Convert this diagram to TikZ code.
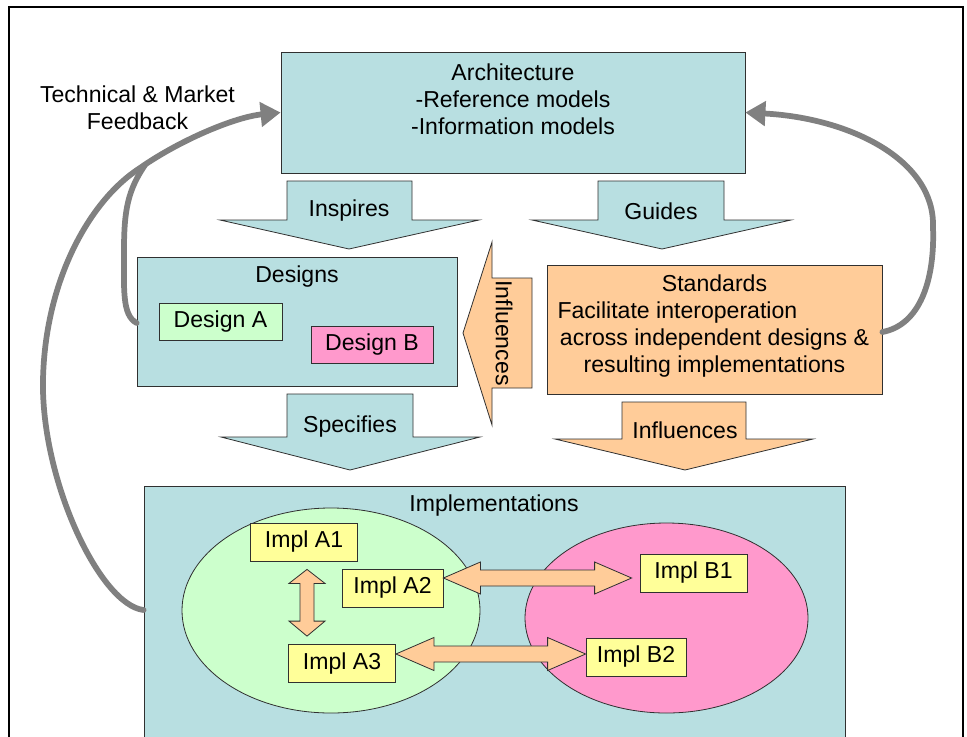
\documentclass[tikz,border=0pt]{standalone}
\usepackage{fontspec}
\setmainfont{Liberation Sans}
\usetikzlibrary{calc,arrows.meta,shapes.geometric}
\definecolor{teal}{HTML}{B8DFE1}
\definecolor{peach}{HTML}{FFCC99}
\definecolor{lgreen}{HTML}{CCFFCC}
\definecolor{pinkc}{HTML}{FF99CC}
\definecolor{yell}{HTML}{FFFF99}
\definecolor{fb}{HTML}{808080}
\definecolor{edge}{HTML}{303030}
\tikzset{
  box/.style={draw=edge,line width=0.6pt,inner sep=0pt},
  lbl/.style={inner sep=0pt,font=\fontsize{17.3}{20.25}\selectfont,align=center},
  impl/.style={box,fill=yell,minimum height=28.5pt,font=\fontsize{17.3}{20.25}\selectfont},
  blk/.style={draw=edge,line width=0.6pt,line join=miter},
  dbl/.style={draw=edge,line width=0.6pt,fill=peach},
  feed/.style={draw=fb,line width=4.3pt,line cap=round,-{Triangle[length=15pt,width=18pt]}},
  feedb/.style={draw=fb,line width=4.3pt,line cap=round}
}
\begin{document}
\begin{tikzpicture}[x=0.75pt,y=-0.75pt]
\useasboundingbox (0,0) rectangle (967,736);
\fill[white] (0,0) rectangle (967,736);
\draw[line width=1.6pt] (9,7) rectangle (963,760);

% Architecture
\node[box,fill=teal,minimum width=348pt,minimum height=90.75pt] (arch) at (513,112.5) {};
\node[lbl] (archt) at (513,99.5) {Architecture\\-Reference models\\-Information models};

% Designs
\node[box,fill=teal,minimum width=240pt,minimum height=96.75pt] (des) at (297,321.5) {};
\node[lbl] (dest) at (297,277) {Designs};
\node[box,fill=lgreen,minimum width=92.25pt,minimum height=27.75pt,font=\fontsize{17.3}{20.25}\selectfont] (da) at (220.5,321.5) {Design A};
\node[box,fill=pinkc,minimum width=91.5pt,minimum height=27.75pt,font=\fontsize{17.3}{20.25}\selectfont] (db) at (372,344.5) {Design B};

% Standards
\node[box,fill=peach,minimum width=251.25pt,minimum height=96.75pt] (std) at (714.5,329.5) {};
\node[lbl] (stdt) at (714.5,326.5) {Standards\\\makebox[235.5pt][l]{Facilitate interoperation}\\across independent designs \&\\resulting implementations};

% Implementations
\node[box,fill=teal,minimum width=525.75pt,minimum height=205.5pt] (impl) at (494.5,623) {};
\node[lbl] (implt) at (494,506) {Implementations};
\node[ellipse,draw=edge,line width=0.6pt,fill=lgreen,minimum width=223.5pt,minimum height=153.75pt,inner sep=0pt] (ga) at (331,610.5) {};
\node[ellipse,draw=edge,line width=0.6pt,fill=pinkc,minimum width=212.25pt,minimum height=142.5pt,inner sep=0pt] (gb) at (666.5,618) {};
\node[impl,minimum width=80.25pt] (a1) at (304,542) {Impl A1};
\node[impl,minimum width=75.75pt] (a2) at (392.5,588) {Impl A2};
\node[impl,minimum width=80.25pt] (a3) at (342,663.5) {Impl A3};
\node[impl,minimum width=80.25pt] (b1) at (693.5,573) {Impl B1};
\node[impl,minimum width=75pt] (b2) at (636,657) {Impl B2};

% Block arrows
\coordinate (insp) at (349,249);
\filldraw[blk,fill=teal] (insp) -- ++(-129,-29) -- ++(67,0) -- ++(0,-39) -- ++(125,0) -- ++(0,39) -- ++(67,0) -- cycle;
\node[lbl] (inspt) at (349,211) {Inspires};

\coordinate (guid) at (662,249);
\filldraw[blk,fill=teal] (guid) -- ++(-130,-29) -- ++(66,0) -- ++(0,-39) -- ++(126,0) -- ++(0,39) -- ++(67,0) -- cycle;
\node[lbl] (guidt) at (661,211) {Guides};

\coordinate (spec) at (350,470);
\filldraw[blk,fill=teal] (spec) -- ++(-129,-33) -- ++(66,0) -- ++(0,-43) -- ++(126,0) -- ++(0,43) -- ++(67,0) -- cycle;
\node[lbl] (spect) at (350,427) {Specifies};

\coordinate (infd) at (685,470);
\filldraw[blk,fill=peach] (infd) -- ++(-130,-31) -- ++(67,0) -- ++(0,-37) -- ++(124,0) -- ++(0,37) -- ++(67,0) -- cycle;
\node[lbl] (infdt) at (685,430) {Influences};

\coordinate (infl) at (463,333);
\filldraw[blk,fill=peach] (infl) -- ++(29,-91) -- ++(0,36) -- ++(40,0) -- ++(0,110) -- ++(-40,0) -- ++(0,37) -- cycle;
\node[lbl,rotate=-90] (inflt) at (504,333) {Influences};

% Double arrows
\coordinate (v1) at ($(a1.south)+(3,8)$);
\coordinate (v2) at ($(a3.north)+(-35,-8)$);
\filldraw[dbl] (v1) -- ($(v1)+(18,14)$) -- ($(v1)+(7,14)$) -- ($(v2)+(7,-15)$) -- ($(v2)+(18,-15)$) -- (v2) -- ($(v2)+(-18,-15)$) -- ($(v2)+(-7,-15)$) -- ($(v1)+(-7,14)$) -- ($(v1)+(-18,14)$) -- cycle;

\coordinate (h1) at ($(a2.east)+(0,-10)$);
\coordinate (h2) at ($(b1.west)+(-8,5)$);
\filldraw[dbl] (h1) -- ($(h1)+(37,-16)$) -- ($(h1)+(37,-8)$) -- ($(h2)+(-37,-8)$) -- ($(h2)+(-37,-16)$) -- (h2) -- ($(h2)+(-37,16)$) -- ($(h2)+(-37,8)$) -- ($(h1)+(37,8)$) -- ($(h1)+(37,16)$) -- cycle;

\coordinate (k1) at ($(a3.east)+(0,-9.5)$);
\coordinate (k2) at ($(b2.west)+(0,-3)$);
\filldraw[dbl] (k1) -- ($(k1)+(38,-16.5)$) -- ($(k1)+(38,-8)$) -- ($(k2)+(-38,-8)$) -- ($(k2)+(-38,-16.5)$) -- (k2) -- ($(k2)+(-38,16.5)$) -- ($(k2)+(-38,8)$) -- ($(k1)+(38,8)$) -- ($(k1)+(38,16.5)$) -- cycle;

% Feedback arrows
\coordinate (fi) at ($(impl.west)+(0,-13)$);
\coordinate (fd) at ($(des.west)+(0,1.5)$);
\coordinate (fs) at ($(std.east)+(0,2.5)$);
\coordinate (aw) at (arch.west);
\coordinate (ae) at (arch.east);
\draw[feedb] (fd) .. controls (122,315) and (124,290) .. (124,250) .. controls (124,210) and (128,190) .. (145,165);
\draw[feed] (fi) .. controls (100,605) and (41,480) .. (43,380) .. controls (45,280) and (90,200) .. (140,168) .. controls (180,140) and (235,117) .. (aw);
\draw[feed] (fs) .. controls (920,325) and (935,280) .. (933,227) .. controls (935,160) and (850,118) .. (ae);

\node[lbl] (tech) at (137.5,107.5) {Technical \& Market\\Feedback};
\end{tikzpicture}
\end{document}
